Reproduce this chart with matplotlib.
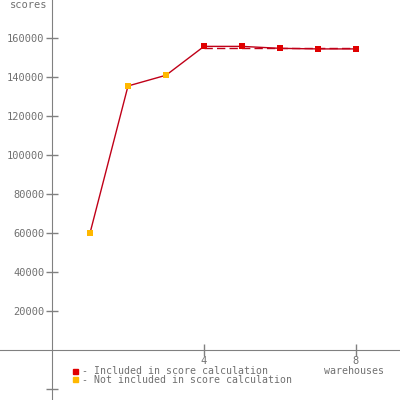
import matplotlib
matplotlib.use("Agg")
from matplotlib import pyplot as plt

# warehouses vs score
warehouses = [1, 2, 3, 4, 5, 6, 7, 8]
scores = [60000, 135400, 140900, 155700, 155700, 154700, 154400, 154400]
included = [False, False, False, True, True, True, True, True]
score_mean = 155000

y_ticks = [20000, 40000, 60000, 80000, 100000, 120000, 140000, 160000]
x_ticks = [4, 8]

gray = "#808080"
font = "DejaVu Sans Mono"

fig = plt.figure(figsize=(4, 4), dpi=100)
ax = fig.add_axes([0, 0, 1, 1])
ax.set_xlim(-1.37, 9.16)
ax.set_ylim(-25641, 179487)

for side in ["top", "right"]:
    ax.spines[side].set_visible(False)
ax.spines["left"].set_position(("data", 0))
ax.spines["bottom"].set_position(("data", 0))
ax.spines["left"].set_color(gray)
ax.spines["bottom"].set_color(gray)

ax.set_yticks(y_ticks + [-20000])
ax.set_yticklabels([str(v) for v in y_ticks] + [""])
ax.set_xticks(x_ticks)
ax.set_xticklabels([str(v) for v in x_ticks])
ax.tick_params(direction="inout", length=9, width=1, color=gray,
               labelcolor="#707070", labelsize=7.5, pad=1)
ax.tick_params(axis="x", pad=0)
for lab in ax.get_xticklabels() + ax.get_yticklabels():
    lab.set_family(font)

# main line
ax.plot(warehouses, scores, color="#c00018", lw=1, zorder=2)
# mean dashed line over included points
inc_x = [w for w, i in zip(warehouses, included) if i]
ax.plot([inc_x[0], inc_x[-1]], [score_mean, score_mean], color="#c00018",
        lw=1, dashes=(6, 3), zorder=2)

ax.scatter([w for w, i in zip(warehouses, included) if i],
           [s for s, i in zip(scores, included) if i],
           marker="s", s=22, color="#e00000", zorder=3, linewidths=0)
ax.scatter([w for w, i in zip(warehouses, included) if not i],
           [s for s, i in zip(scores, included) if not i],
           marker="s", s=18, color="#ffb800", zorder=3, linewidths=0)

fig.text(10 / 400, 1 - 0 / 400, "scores", family=font, size=7.5,
         color="#707070", va="top", ha="left")
fig.text(354 / 400, 1 - 366 / 400, "warehouses", family=font, size=7.2,
         color="#707070", va="top", ha="center")

# legend
fig.patches.append(plt.Rectangle((73 / 400, 1 - 374 / 400), 5 / 400, 5 / 400,
                                 transform=fig.transFigure, color="#e00000"))
fig.patches.append(plt.Rectangle((73 / 400, 1 - 382 / 400), 5 / 400, 5 / 400,
                                 transform=fig.transFigure, color="#ffb800"))
fig.text(82 / 400, 1 - 371 / 400, "- Included in score calculation",
         family=font, size=7.1, color="#707070", va="center", ha="left")
fig.text(82 / 400, 1 - 380 / 400, "- Not included in score calculation",
         family=font, size=7.1, color="#707070", va="center", ha="left")

fig.savefig("out.png", dpi=100)
